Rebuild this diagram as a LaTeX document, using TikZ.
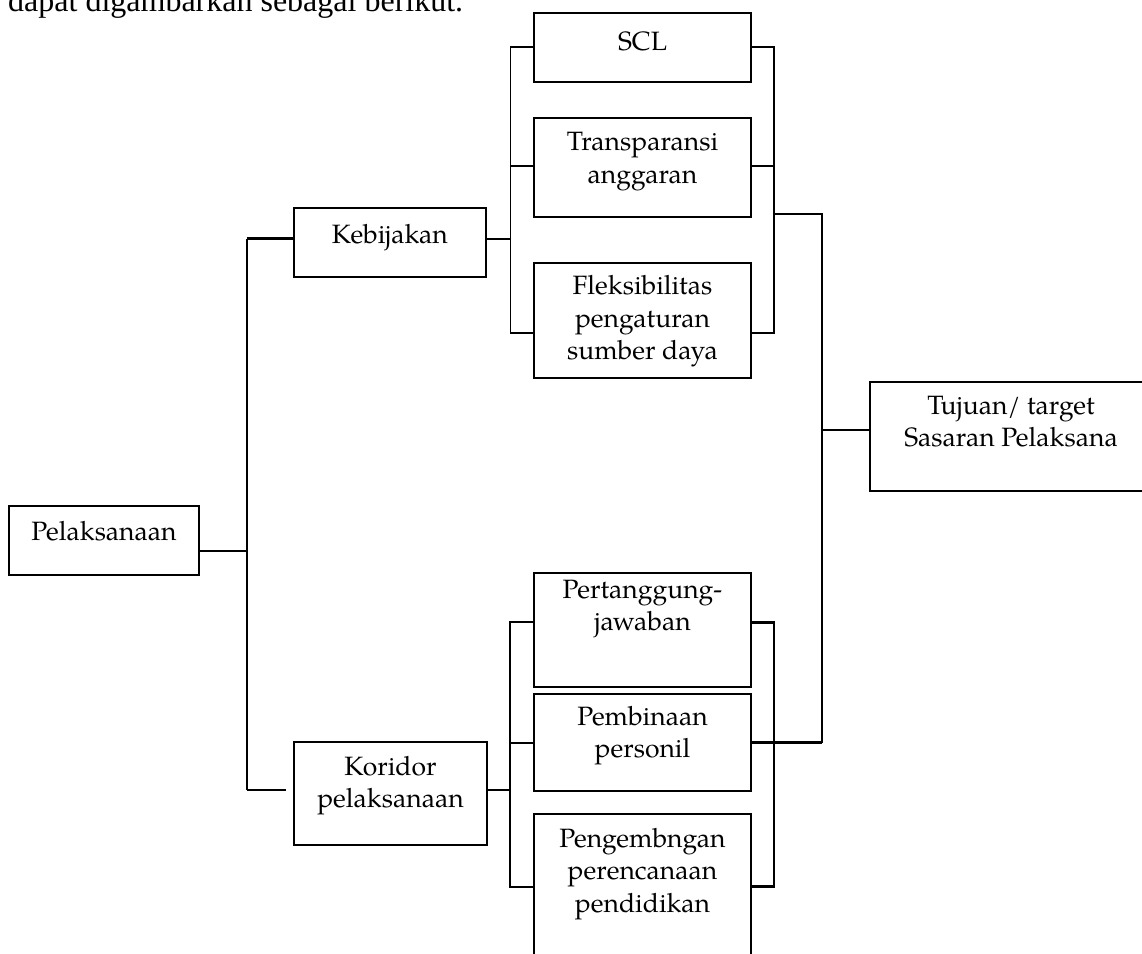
\documentclass[tikz,border=0pt]{standalone}
\usepackage{fontspec}
\usetikzlibrary{calc}

% Palatino-like body font and Times-like lead-in line
\newfontfamily\pagella{TeX Gyre Pagella}
\newfontfamily\termes{Liberation Serif}
\newcommand\boxfont{\pagella\fontsize{26.5}{32.5}\selectfont}
\newcommand\leadfont{\termes\fontsize{32}{38}\selectfont}

\begin{document}
\begin{tikzpicture}[x=1pt, y=-1pt,
  box/.style={draw, line width=1.8pt, rectangle, inner sep=0pt, outer sep=0pt},
  txt/.style={anchor=north, inner sep=0pt, align=center, font=\boxfont,
              execute at begin node=\strut},
  link/.style={line width=1.8pt},
  boldlink/.style={line width=2.8pt},
]
\useasboundingbox (0,0) rectangle (1142,953);

% lead-in sentence, cut by the top edge
\node[anchor=base west, inner sep=0pt, font=\leadfont] (intro) at (8,11) {dapat digambarkan sebagai berikut.};

% boxes
\node[box, minimum width=190pt,   minimum height=69.3pt]  (pel) at (104,540.35) {};
\node[box, minimum width=191.7pt, minimum height=69.6pt]  (keb) at (389.85,242.5) {};
\node[box, minimum width=192.4pt, minimum height=103pt]   (kor) at (390.5,793.8) {};
\node[box, minimum width=216.4pt, minimum height=68.4pt]  (scl) at (642.5,47.5) {};
\node[box, minimum width=216.4pt, minimum height=98.4pt]  (tra) at (642.5,167.5) {};
\node[box, minimum width=216.4pt, minimum height=114.7pt] (fle) at (642.5,320.65) {};
\node[box, minimum width=216.4pt, minimum height=113.4pt] (per) at (642.5,630) {};
\node[box, minimum width=216.4pt, minimum height=96.4pt]  (pem) at (642.5,742.5) {};
\node[box, minimum width=216.4pt, minimum height=160.7pt] (pen) at (642.5,894.65) {};
\node[box, minimum width=282pt,   minimum height=108.7pt] (tuj) at (1011,436.35) {};

% box texts (first baseline measured from the top edge; strut height 22.75pt)
\node[txt] (pelt) at ([yshift=-12.25pt]pel.north) {Pelaksanaan};
\node[txt] (kebt) at ([yshift=-12.85pt]keb.north) {Kebijakan};
\node[txt] (kort) at ([yshift=-13.25pt]kor.north) {Koridor\\pelaksanaan};
\node[txt] (sclt) at ([yshift=-13.95pt]scl.north) {SCL};
\node[txt] (trat) at ([yshift=-13.95pt]tra.north) {Transparansi\\anggaran};
\node[txt] (flet) at ([yshift=-12.25pt]fle.north) {Fleksibilitas\\pengaturan\\sumber daya};
\node[txt] (pert) at ([yshift=-6.65pt]per.north) {Pertanggung-\\jawaban};
\node[txt] (pemt) at ([yshift=-11.25pt]pem.north) {Pembinaan\\personil};
\node[txt] (pent) at ([yshift=-13.25pt]pen.north) {Pengembngan\\perencanaan\\pendidikan};
\node[txt] (tujt) at ([yshift=-13.55pt]tuj.north) {Tujuan/ target\\Sasaran Pelaksana};

% junction points
\coordinate (jP)   at (246.7,550.7);
\coordinate (tTop) at (246.7,238.7);
\coordinate (tBot) at (246.7,790);
\coordinate (g1)   at (510.5,238.7);
\coordinate (g1a)  at (510.5,46.7);
\coordinate (g1b)  at (510.5,166);
\coordinate (g1c)  at (510.5,333);
\coordinate (r1a)  at (774,46.7);
\coordinate (r1b)  at (774,166);
\coordinate (r1c)  at (774,333);
\coordinate (r1j)  at (774,214);
\coordinate (m1)   at (822.3,214);
\coordinate (mt)   at (822.3,430);
\coordinate (m2)   at (822.3,742.7);
\coordinate (g2)   at (510,790);
\coordinate (g2a)  at (510,622.3);
\coordinate (g2b)  at (510,743);
\coordinate (g2c)  at (510,886.7);
\coordinate (r2a)  at (774,622.3);
\coordinate (r2c)  at (774,886.7);
\coordinate (korIn) at ($(kor.west |- tBot)+(-8,0)$);

% Pelaksanaan trunk
\draw[link] (pel.east |- jP) -- (jP);
\draw[link] (tTop) -- (tBot);
\draw[boldlink] (tTop) -- (keb.west |- tTop);
\draw[link] (tBot) -- (korIn);

% Kebijakan group
\draw[link] (keb.east |- g1) -- (g1);
\draw[link] (scl.west |- g1a) -- (g1a) -- (g1c) -- (fle.west |- g1c);
\draw[link] (g1b) -- (tra.west |- g1b);
\draw[link] (scl.east |- r1a) -- (r1a) -- (r1c) -- (fle.east |- r1c);
\draw[link] (tra.east |- r1b) -- (r1b);
\draw[link] (r1j) -- (m1) -- (m2);
\draw[link] (mt) -- (tuj.west |- mt);

% Koridor group
\draw[link] (kor.east |- g2) -- (g2);
\draw[link] (per.west |- g2a) -- (g2a) -- (g2c) -- (pen.west |- g2c);
\draw[link] (g2b) -- (pem.west |- g2b);
\draw[boldlink] (per.east |- r2a) -- (r2a) -- (r2c) -- (pen.east |- r2c);
\draw[boldlink] (pem.east |- m2) -- (m2);
\end{tikzpicture}
\end{document}
